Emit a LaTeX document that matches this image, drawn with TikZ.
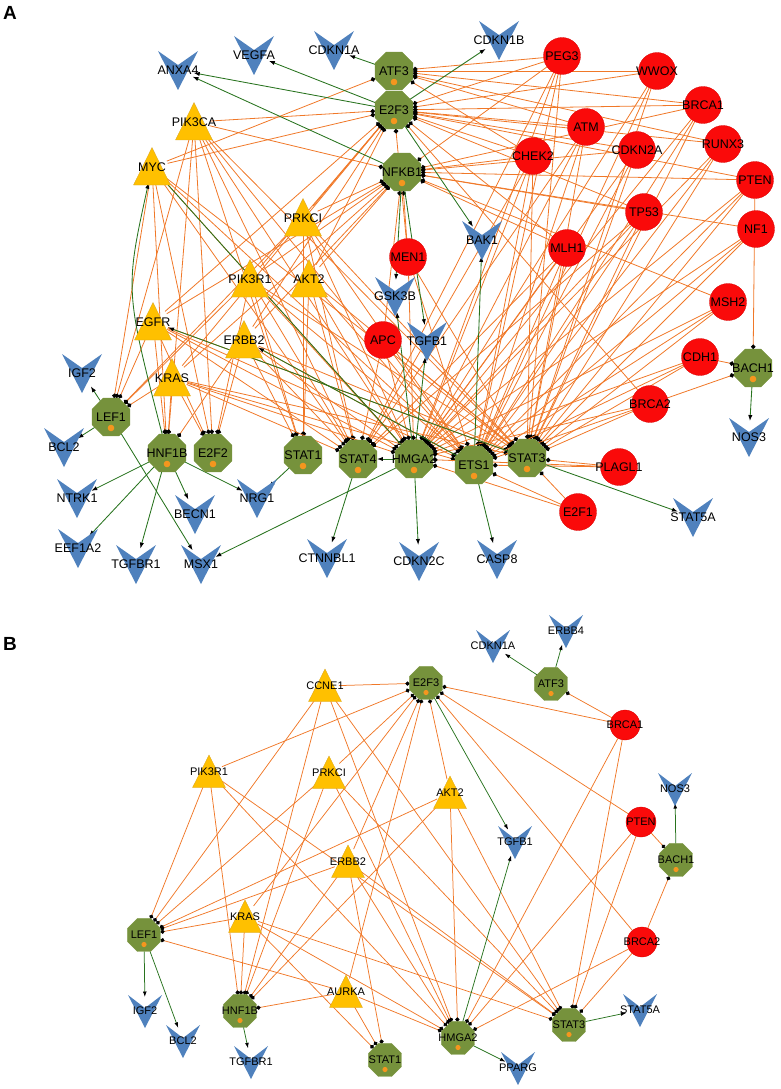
\documentclass[tikz,border=0pt]{standalone}
\usepackage{fontspec}
\setmainfont{Liberation Sans}
\usetikzlibrary{shapes.geometric,arrows.meta}
\definecolor{oedge}{RGB}{240,120,40}
\definecolor{gedge}{RGB}{40,115,30}
\definecolor{octfill}{RGB}{118,146,60}
\definecolor{octdot}{RGB}{245,150,30}
\definecolor{redfill}{RGB}{250,10,10}
\definecolor{trifill}{RGB}{255,192,0}
\definecolor{tridraw}{RGB}{215,165,40}
\definecolor{vfill}{RGB}{79,129,189}
\pgfdeclarelayer{bg}
\pgfsetlayers{bg,main}
\tikzset{
 octA/.style={regular polygon, regular polygon sides=8, minimum size=41pt, inner sep=0pt, outer sep=0pt, fill=octfill, draw=octfill, line width=0.3pt},
 octB/.style={octA, minimum size=35.5pt},
 redA/.style={circle, minimum size=37pt, inner sep=0pt, outer sep=0pt, fill=redfill, draw=red!85!black, line width=0.3pt},
 redB/.style={redA, minimum size=30pt},
 hitA/.style={circle, minimum size=32pt, inner sep=0pt, outer sep=0pt},
 hitB/.style={circle, minimum size=28pt, inner sep=0pt, outer sep=0pt},
 lblA/.style={inner sep=0pt, font=\fontsize{12.5}{14}\selectfont, text=black},
 lblB/.style={inner sep=0pt, font=\fontsize{11}{13}\selectfont, text=black},
 oe/.style={draw=oedge, line width=0.8pt, -{Circle[length=4.6pt,color=black]}},
 oeB/.style={draw=oedge, line width=0.75pt, -{Circle[length=4.2pt,color=black]}},
 ge/.style={draw=gedge, line width=0.85pt, -{Latex[length=6pt,width=4.2pt,color=black]}},
 geB/.style={draw=gedge, line width=0.75pt, -{Latex[length=5.5pt,width=3.8pt,color=black]}},
 panel/.style={font=\fontsize{19}{22}\selectfont\bfseries, inner sep=0pt},
}
% panel A node makers
\newcommand\OctnodeA[4]{\node[octA] (#1) at (#2,#3) {}; \fill[octdot] (#2,#3+11) circle (3.3); \node[lblA] (#1-t) at (#2,#3) {#4};}
\newcommand\RednodeA[4]{\node[redA] (#1) at (#2,#3) {}; \node[lblA] (#1-t) at (#2,#3) {#4};}
\newcommand\TrinodeA[4]{\fill[trifill, draw=tridraw, line width=0.3pt] (#2-18.5,#3+18) -- (#2,#3-19.5) -- (#2+18.5,#3+18) -- cycle; \node[hitA] (#1) at (#2,#3) {}; \node[lblA] (#1-t) at (#2,#3) {#4};}
\newcommand\VnodeA[4]{\fill[vfill] (#2-20,#3-19) -- (#2,#3-5) -- (#2+20,#3-19) -- (#2,#3+20) -- cycle; \node[hitA] (#1) at (#2,#3) {}; \node[lblA] (#1-t) at (#2,#3) {#4};}
% panel B node makers
\newcommand\OctnodeB[4]{\node[octB] (#1) at (#2,#3) {}; \fill[octdot] (#2,#3+9.5) circle (2.6); \node[lblB] (#1-t) at (#2,#3) {#4};}
\newcommand\RednodeB[4]{\node[redB] (#1) at (#2,#3) {}; \node[lblB] (#1-t) at (#2,#3) {#4};}
\newcommand\TrinodeB[4]{\fill[trifill, draw=tridraw, line width=0.3pt] (#2-16.5,#3+15.5) -- (#2,#3-17) -- (#2+16.5,#3+15.5) -- cycle; \node[hitB] (#1) at (#2,#3) {}; \node[lblB] (#1-t) at (#2,#3) {#4};}
\newcommand\VnodeB[4]{\fill[vfill] (#2-17,#3-16) -- (#2,#3-3) -- (#2+17,#3-16) -- (#2,#3+17) -- cycle; \node[hitB] (#1) at (#2,#3) {}; \node[lblB] (#1-t) at (#2,#3) {#4};}

\begin{document}
\begin{tikzpicture}[x=1pt,y=-1pt]
\useasboundingbox (0,0) rectangle (781,1089);
\node[panel] (labA) at (10,13) {A};
\node[panel] (labB) at (10,644) {B};

% ================= PANEL A =================
\VnodeA{aANXA4}{178}{70}{ANXA4}
\VnodeA{aVEGFA}{254}{55}{VEGFA}
\VnodeA{aCDKN1A}{334}{50}{CDKN1A}
\VnodeA{aCDKN1B}{499}{40}{CDKN1B}
\VnodeA{aBAK1}{482}{240}{BAK1}
\VnodeA{aGSK3B}{395}{296}{GSK3B}
\VnodeA{aTGFB1}{427}{341}{TGFB1}
\VnodeA{aNOS3}{749}{437}{NOS3}
\VnodeA{aIGF2}{82}{373}{IGF2}
\VnodeA{aBCL2}{64}{447}{BCL2}
\VnodeA{aNTRK1}{77}{498}{NTRK1}
\VnodeA{aBECN1}{195}{514}{BECN1}
\VnodeA{aNRG1}{257}{498}{NRG1}
\VnodeA{aEEF1A2}{78}{548}{EEF1A2}
\VnodeA{aTGFBR1}{136}{564}{TGFBR1}
\VnodeA{aMSX1}{201}{564}{MSX1}
\VnodeA{aCTNNBL1}{327}{558}{CTNNBL1}
\VnodeA{aCDKN2C}{419}{561}{CDKN2C}
\VnodeA{aCASP8}{497}{559}{CASP8}
\VnodeA{aSTAT5A}{693}{517}{STAT5A}

\TrinodeA{aPIK3CA}{194}{122}{PIK3CA}
\TrinodeA{aMYC}{152}{167}{MYC}
\TrinodeA{aPRKCI}{303}{218}{PRKCI}
\TrinodeA{aPIK3R1}{250}{279}{PIK3R1}
\TrinodeA{aAKT2}{309}{279}{AKT2}
\TrinodeA{aEGFR}{153}{322}{EGFR}
\TrinodeA{aERBB2}{244}{340}{ERBB2}
\TrinodeA{aKRAS}{172}{378}{KRAS}

\RednodeA{aPEG3}{562}{56}{PEG3}
\RednodeA{aWWOX}{657}{71}{WWOX}
\RednodeA{aBRCA1}{703}{105}{BRCA1}
\RednodeA{aATM}{586}{127}{ATM}
\RednodeA{aCHEK2}{533}{156}{CHEK2}
\RednodeA{aCDKN2A}{637}{150}{CDKN2A}
\RednodeA{aRUNX3}{723}{144}{RUNX3}
\RednodeA{aPTEN}{755}{180}{PTEN}
\RednodeA{aTP53}{644}{212}{TP53}
\RednodeA{aNF1}{756}{229}{NF1}
\RednodeA{aMLH1}{567}{248}{MLH1}
\RednodeA{aMEN1}{408}{257}{MEN1}
\RednodeA{aAPC}{383}{340}{APC}
\RednodeA{aMSH2}{728}{302}{MSH2}
\RednodeA{aCDH1}{700}{357}{CDH1}
\RednodeA{aBRCA2}{650}{404}{BRCA2}
\RednodeA{aPLAGL1}{619}{467}{PLAGL1}
\RednodeA{aE2F1}{578}{512}{E2F1}

\OctnodeA{aATF3}{394}{71}{ATF3}
\OctnodeA{aE2F3}{394}{110}{E2F3}
\OctnodeA{aNFKB1}{402}{172}{NFKB1}
\OctnodeA{aLEF1}{111}{417}{LEF1}
\OctnodeA{aHNF1B}{167}{453}{HNF1B}
\OctnodeA{aE2F2}{213}{453}{E2F2}
\OctnodeA{aSTAT1}{303}{455}{STAT1}
\OctnodeA{aSTAT4}{358}{459}{STAT4}
\OctnodeA{aHMGA2}{414}{459}{HMGA2}
\OctnodeA{aETS1}{474}{465}{ETS1}
\OctnodeA{aSTAT3}{527}{458}{STAT3}
\OctnodeA{aBACH1}{753}{368}{BACH1}

% ================= PANEL B =================
\VnodeB{bCDKN1A}{493}{646}{CDKN1A}
\VnodeB{bERBB4}{566}{631}{ERBB4}
\VnodeB{bNOS3}{675}{789}{NOS3}
\VnodeB{bTGFB1}{515}{842}{TGFB1}
\VnodeB{bIGF2}{145}{1011}{IGF2}
\VnodeB{bBCL2}{183}{1041}{BCL2}
\VnodeB{bTGFBR1}{251}{1062}{TGFBR1}
\VnodeB{bSTAT5A}{640}{1010}{STAT5A}
\VnodeB{bPPARG}{518}{1068}{PPARG}

\TrinodeB{bCCNE1}{325}{686}{CCNE1}
\TrinodeB{bPIK3R1}{209}{772}{PIK3R1}
\TrinodeB{bPRKCI}{329}{773}{PRKCI}
\TrinodeB{bAKT2}{450}{793}{AKT2}
\TrinodeB{bERBB2}{348}{862}{ERBB2}
\TrinodeB{bKRAS}{245}{917}{KRAS}
\TrinodeB{bAURKA}{346}{992}{AURKA}

\RednodeB{bBRCA1}{625}{725}{BRCA1}
\RednodeB{bPTEN}{641}{822}{PTEN}
\RednodeB{bBRCA2}{642}{942}{BRCA2}

\OctnodeB{bE2F3}{426}{683}{E2F3}
\OctnodeB{bATF3}{551}{684}{ATF3}
\OctnodeB{bLEF1}{144}{935}{LEF1}
\OctnodeB{bHNF1B}{240}{1011}{HNF1B}
\OctnodeB{bSTAT1}{385}{1060}{STAT1}
\OctnodeB{bHMGA2}{458}{1038}{HMGA2}
\OctnodeB{bSTAT3}{569}{1025}{STAT3}
\OctnodeB{bBACH1}{676}{860}{BACH1}

% ================= EDGES =================
\begin{pgfonlayer}{bg}
% panel A regulations (orange)
\foreach \s/\tl in {
 PIK3CA/{E2F3,NFKB1,LEF1,HNF1B,E2F2,STAT1,STAT4,HMGA2,ETS1,STAT3},
 MYC/{ATF3,E2F3,LEF1,HNF1B,E2F2,STAT4,HMGA2,ETS1,STAT3},
 PRKCI/{E2F3,NFKB1,LEF1,STAT1,STAT4,HMGA2,ETS1,STAT3},
 PIK3R1/{E2F3,NFKB1,LEF1,E2F2,STAT1,STAT4,HMGA2,ETS1,STAT3},
 AKT2/{E2F3,NFKB1,STAT1,STAT4,HMGA2,ETS1,STAT3},
 EGFR/{E2F3,NFKB1,LEF1,HNF1B,E2F2,STAT4,HMGA2,ETS1,STAT3},
 ERBB2/{E2F3,NFKB1,HNF1B,E2F2,STAT1,STAT4,HMGA2,ETS1,STAT3},
 KRAS/{E2F3,NFKB1,LEF1,HNF1B,E2F2,STAT4,HMGA2,ETS1,STAT3},
 PEG3/{ATF3,E2F3,NFKB1,HMGA2,ETS1,STAT3,STAT4},
 WWOX/{ATF3,E2F3,HMGA2,ETS1,STAT3},
 BRCA1/{ATF3,E2F3,NFKB1,HMGA2,ETS1,STAT3},
 ATM/{ATF3,E2F3,HMGA2,ETS1,STAT3,STAT4},
 CHEK2/{ATF3,E2F3,NFKB1,HMGA2,ETS1,STAT3,STAT4},
 CDKN2A/{E2F3,NFKB1,HMGA2,ETS1,STAT3},
 RUNX3/{ATF3,E2F3,HMGA2,ETS1,STAT3},
 PTEN/{E2F3,NFKB1,BACH1,HMGA2,ETS1,STAT3},
 TP53/{E2F3,NFKB1,HMGA2,ETS1,STAT3,STAT4},
 NF1/{NFKB1,HMGA2,ETS1,STAT3},
 MLH1/{E2F3,NFKB1,HMGA2,ETS1,STAT3,STAT4},
 MSH2/{NFKB1,HMGA2,ETS1,STAT3},
 CDH1/{BACH1,HMGA2,ETS1,STAT3},
 BRCA2/{BACH1,E2F3,HMGA2,ETS1,STAT3},
 MEN1/{NFKB1,E2F3,HMGA2,ETS1,STAT3},
 APC/{NFKB1,STAT4,HMGA2,ETS1,STAT3},
 PLAGL1/{HMGA2,ETS1,STAT3},
 E2F1/{HMGA2,ETS1,STAT3}}
 {\foreach \t in \tl {\draw[oe] (a\s) -- (a\t);}}
% panel A targets (green)
\foreach \s/\t in {ATF3/CDKN1A, E2F3/VEGFA, E2F3/ANXA4, NFKB1/ANXA4, E2F3/CDKN1B, E2F3/BAK1,
 NFKB1/GSK3B, NFKB1/TGFB1, HMGA2/GSK3B, HMGA2/TGFB1, ETS1/BAK1, HMGA2/STAT4, HMGA2/MSX1,
 HMGA2/CDKN2C, HMGA2/MYC, ETS1/ERBB2, STAT3/EGFR, ETS1/CASP8, STAT3/STAT5A, BACH1/NOS3,
 LEF1/IGF2, LEF1/BCL2, LEF1/MSX1, HNF1B/NTRK1, HNF1B/EEF1A2, HNF1B/TGFBR1, HNF1B/BECN1,
 HNF1B/NRG1, STAT1/NRG1, STAT4/CTNNBL1}
 {\draw[ge] (a\s) -- (a\t);}
\draw[ge] (aHNF1B) .. controls (125,290) .. (aMYC);

% panel B regulations (orange)
\foreach \s/\tl in {
 CCNE1/{E2F3,LEF1,HNF1B,HMGA2,STAT3},
 PIK3R1/{E2F3,LEF1,HNF1B,HMGA2,STAT3},
 PRKCI/{E2F3,LEF1,HNF1B,HMGA2,STAT3},
 AKT2/{E2F3,LEF1,HNF1B,HMGA2,STAT3},
 ERBB2/{E2F3,LEF1,HNF1B,STAT1,HMGA2,STAT3},
 KRAS/{E2F3,LEF1,HNF1B,STAT1,HMGA2,STAT3},
 AURKA/{E2F3,LEF1,HNF1B,STAT1,HMGA2},
 BRCA1/{E2F3,ATF3,HMGA2,STAT3},
 PTEN/{E2F3,BACH1,HMGA2,STAT3},
 BRCA2/{E2F3,BACH1,HMGA2,STAT3}}
 {\foreach \t in \tl {\draw[oeB] (b\s) -- (b\t);}}
% panel B targets (green)
\foreach \s/\t in {ATF3/CDKN1A, ATF3/ERBB4, E2F3/TGFB1, BACH1/NOS3, LEF1/IGF2, LEF1/BCL2,
 HNF1B/TGFBR1, HMGA2/TGFB1, HMGA2/PPARG, STAT3/STAT5A}
 {\draw[geB] (b\s) -- (b\t);}
\end{pgfonlayer}
\end{tikzpicture}
\end{document}
